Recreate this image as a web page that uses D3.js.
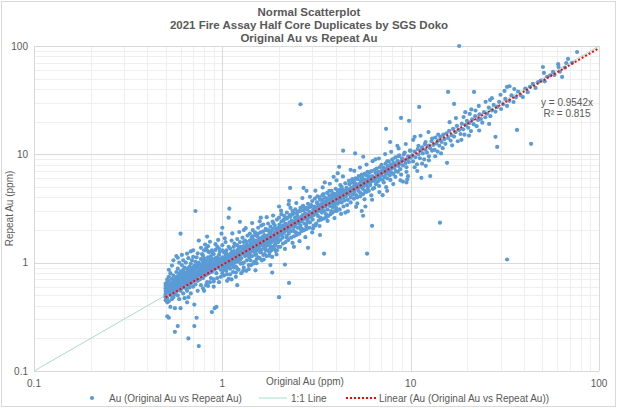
<!DOCTYPE html>
<html>
<head>
<meta charset="utf-8">
<script src="https://cdn.jsdelivr.net/npm/d3@7"></script>
<style>
  body { margin: 0; background: #fff; }
  svg { display: block; font-family: "Liberation Sans", Arial, sans-serif; }
</style>
</head>
<body>
<div id="graph"></div>
<script>
const titleLines = ['Normal Scatterplot', '2021 Fire Assay Half Core Duplicates by SGS Doko', 'Original Au vs Repeat Au'];
const tickValues = [0.1, 1, 10, 100];
const tickLabels = ['0.1', '1', '10', '100'];
const xTitle = 'Original Au (ppm)';
const yTitle = 'Repeat Au (ppm)';
const legendLabels = ['Au (Original Au vs Repeat Au)', '1:1 Line', 'Linear (Au (Original Au vs Repeat Au))'];
const trendSlope = 0.9542;
const trendR2 = 0.815;
const trendRange = [0.5, 100];
const oneToOneRange = [0.1, 100];

// [original Au, repeat Au] in ppm
const auPoints = [
  // 0.50 - 0.60
  [0.5,0.45],[0.5,0.48],[0.5,0.52],[0.5,0.55],[0.5,0.58],[0.5,0.61],[0.5,0.64],[0.5,0.5],[0.51,0.43],[0.51,0.56],
  [0.51,0.6],[0.51,0.66],[0.51,0.7],[0.51,0.47],[0.51,0.32],[0.52,0.31],[0.52,0.53],[0.52,0.57],[0.52,0.62],[0.52,0.68],
  [0.52,0.74],[0.52,0.86],[0.52,0.44],[0.53,0.5],[0.53,0.55],[0.53,0.59],[0.53,0.63],[0.53,0.8],[0.53,0.39],[0.53,0.56],
  [0.54,0.52],[0.54,0.6],[0.54,0.65],[0.54,0.71],[0.54,0.58],[0.54,0.46],[0.54,0.94],[0.55,0.53],[0.55,0.57],[0.55,0.62],
  [0.55,0.67],[0.55,0.76],[0.55,0.48],[0.55,1.05],[0.56,0.55],[0.56,0.6],[0.56,0.64],[0.56,0.7],[0.56,0.51],[0.56,0.23],
  [0.56,0.38],[0.57,0.58],[0.57,0.62],[0.57,0.66],[0.57,0.73],[0.57,0.82],[0.57,0.54],[0.57,1.15],[0.58,0.56],[0.58,0.61],
  [0.58,0.68],[0.58,0.75],[0.58,0.88],[0.58,0.26],[0.58,0.5],[0.58,1.11],[0.59,0.6],[0.59,0.65],[0.59,0.72],[0.59,0.79],
  [0.59,0.46],[0.59,1.0],[0.6,1.85],[0.6,0.38],[0.6,0.62],[0.6,0.68],[0.6,0.74],[0.6,0.83],[0.6,0.55],[0.61,1.18],
  // 0.60 - 0.75
  [0.61,0.58],[0.61,0.66],[0.61,0.72],[0.61,0.8],[0.61,0.95],[0.62,0.6],[0.62,0.7],[0.62,0.77],[0.62,0.52],[0.62,0.86],
  [0.63,0.63],[0.63,0.69],[0.63,0.75],[0.63,0.81],[0.63,0.9],[0.63,0.47],[0.64,0.64],[0.64,0.72],[0.64,0.78],[0.64,0.58],
  [0.64,1.0],[0.65,0.66],[0.65,0.74],[0.65,0.82],[0.65,0.88],[0.65,0.55],[0.65,0.43],[0.66,0.2],[0.66,0.7],[0.66,0.76],
  [0.66,0.85],[0.66,0.62],[0.66,1.1],[0.67,0.68],[0.67,0.73],[0.67,0.8],[0.67,0.92],[0.67,0.59],[0.68,0.7],[0.68,0.78],
  [0.68,0.84],[0.68,0.64],[0.68,0.98],[0.68,0.52],[0.69,0.72],[0.69,0.8],[0.69,0.88],[0.69,1.05],[0.69,0.66],[0.7,0.74],
  [0.7,0.82],[0.7,0.9],[0.7,0.6],[0.7,1.3],[0.71,0.26],[0.71,0.76],[0.71,0.85],[0.71,0.69],[0.71,0.94],[0.71,0.41],
  [0.72,3.0],[0.72,0.78],[0.72,0.88],[0.72,0.72],[0.72,1.02],[0.72,0.63],[0.73,0.31],[0.73,0.8],[0.73,0.9],[0.73,0.74],
  [0.73,1.12],[0.74,0.82],[0.74,0.93],[0.74,0.68],[0.74,0.98],[0.75,0.17],[0.75,0.84],[0.75,0.76],[0.75,1.0],[0.75,1.6],
  [0.62,1.05],[0.65,1.21],[0.68,1.27],[0.7,1.13],[0.74,1.22],[0.66,0.48],[0.74,0.55],
  // 0.75 - 1.0
  [0.76,0.8],[0.76,0.88],[0.76,0.95],[0.76,0.7],[0.77,0.82],[0.77,0.9],[0.77,1.08],[0.77,0.62],[0.78,0.85],[0.78,0.78],
  [0.78,0.96],[0.78,1.2],[0.79,0.83],[0.79,0.92],[0.79,0.72],[0.79,1.02],[0.8,0.86],[0.8,0.8],[0.8,0.95],[0.8,1.1],
  [0.8,0.55],[0.81,0.88],[0.81,0.76],[0.81,1.0],[0.81,1.47],[0.82,0.9],[0.82,0.84],[0.82,1.05],[0.82,1.35],[0.83,0.92],
  [0.83,0.78],[0.83,0.98],[0.83,0.66],[0.83,1.74],[0.84,0.86],[0.84,0.95],[0.84,1.12],[0.85,0.9],[0.85,1.0],[0.85,0.8],
  [0.85,1.25],[0.86,0.93],[0.86,0.85],[0.86,1.06],[0.87,0.96],[0.87,0.88],[0.87,1.15],[0.87,0.72],[0.88,0.35],[0.88,0.92],
  [0.88,1.0],[0.88,0.82],[0.89,0.95],[0.89,1.08],[0.89,0.9],[0.9,0.98],[0.9,0.86],[0.9,1.2],[0.9,0.6],[0.91,0.38],
  [0.91,1.0],[0.91,0.93],[0.92,1.02],[0.92,0.88],[0.92,1.1],[0.93,0.96],[0.93,1.05],[0.93,0.8],[0.93,0.39],[0.94,0.98],
  [0.94,1.12],[0.94,1.4],[0.95,1.0],[0.95,0.9],[0.96,1.04],[0.96,0.94],[0.96,1.18],[0.97,0.97],[0.97,1.08],[0.98,1.0],
  [0.98,0.86],[0.99,1.06],[0.99,0.95],[0.99,1.85],[1.0,2.1],
  [0.8,1.3],[0.82,0.62],[0.84,1.42],[0.86,0.66],[0.88,1.3],[0.9,0.7],[0.92,1.48],[0.94,0.72],[0.96,1.35],[0.98,0.74],
  [0.77,1.37],[0.79,1.16],[0.83,1.29],[0.86,1.56],[0.89,1.23],[0.92,1.31],[0.95,1.62],[0.97,1.26],[0.79,0.58],[0.84,0.61],
  [0.9,0.67],[0.96,0.66],
  // 1.0 - 1.4
  [1.0,1.02],[1.0,0.92],[1.0,1.12],[1.01,0.98],[1.01,1.08],[1.01,0.85],[1.02,1.05],[1.02,0.95],[1.02,1.25],[1.03,1.0],
  [1.03,1.1],[1.03,0.88],[1.04,1.04],[1.04,0.96],[1.04,1.18],[1.05,1.06],[1.05,0.9],[1.05,1.3],[1.06,1.0],[1.06,1.12],
  [1.06,0.78],[1.07,1.08],[1.07,0.98],[1.08,2.6],[1.08,1.04],[1.08,1.15],[1.08,0.92],[1.09,3.15],[1.09,1.1],[1.09,1.0],
  [1.1,1.06],[1.1,1.2],[1.1,0.88],[1.11,1.12],[1.11,0.98],[1.12,1.08],[1.12,1.25],[1.12,0.7],[1.13,1.14],[1.13,1.02],
  [1.14,1.1],[1.14,0.94],[1.15,1.18],[1.15,1.06],[1.15,1.4],[1.16,1.12],[1.16,1.0],[1.17,1.2],[1.17,1.08],[1.18,1.15],
  [1.18,0.92],[1.19,1.22],[1.19,1.1],[1.2,1.16],[1.2,1.3],[1.2,1.02],[1.21,1.2],[1.22,1.12],[1.22,1.35],[1.23,1.18],
  [1.24,2.38],[1.24,1.24],[1.24,1.06],[1.25,1.2],[1.26,1.28],[1.26,1.1],[1.27,1.22],[1.28,1.32],[1.28,0.98],[1.29,1.25],
  [1.3,1.2],[1.3,1.42],[1.31,1.3],[1.32,1.15],[1.33,1.35],[1.34,1.24],[1.35,1.3],[1.35,1.55],[1.36,1.18],[1.37,1.34],
  [1.38,1.28],[1.39,1.4],[1.39,1.12],
  [1.0,1.45],[1.02,0.76],[1.04,1.55],[1.06,0.68],[1.08,1.4],[1.1,0.78],[1.12,1.6],[1.14,0.82],[1.16,1.5],[1.18,0.74],
  [1.2,1.65],[1.22,0.86],[1.24,1.55],[1.26,0.8],[1.28,1.7],[1.3,0.9],[1.32,1.6],[1.34,0.84],[1.36,1.78],[1.38,0.95],
  [1.0,1.3],[1.05,1.22],[1.1,1.35],[1.15,1.28],[1.2,1.45],[1.25,1.4],[1.3,1.55],[1.35,1.45],[1.0,0.8],[1.05,0.84],
  [1.1,0.95],[1.15,0.9],[1.2,0.88],[1.25,0.98],[1.3,1.0],[1.35,1.05],[1.2,0.62],[1.3,2.0],
  [1.03,1.68],[1.13,1.86],[1.23,1.92],[1.33,2.08],[1.08,0.71],[1.18,0.81],[1.29,0.84],[1.38,0.87],
  // 1.4 - 2.0
  [1.4,1.45],[1.4,1.2],[1.4,1.6],[1.41,1.05],[1.42,1.35],[1.42,1.52],[1.43,1.28],[1.43,1.7],[1.44,1.4],[1.44,1.15],
  [1.45,1.5],[1.45,1.32],[1.46,0.98],[1.46,1.62],[1.47,1.42],[1.48,1.25],[1.48,1.55],[1.49,1.9],[1.5,1.48],[1.5,1.36],
  [1.51,1.2],[1.51,1.6],[1.52,1.45],[1.53,1.3],[1.53,1.75],[1.54,1.52],[1.55,1.4],[1.55,1.12],[1.56,1.58],[1.57,1.35],
  [1.57,1.68],[1.58,1.5],[1.59,1.25],[1.6,1.62],[1.6,1.45],[1.61,2.2],[1.62,1.55],[1.62,1.32],[1.63,1.72],[1.64,1.48],
  [1.65,1.6],[1.65,1.18],[1.66,1.4],[1.67,1.8],[1.68,1.55],[1.68,1.65],[1.69,1.38],[1.7,1.7],[1.7,1.5],[1.71,2.0],
  [1.72,1.62],[1.73,1.45],[1.74,1.78],[1.75,1.6],[1.75,1.3],[1.76,1.7],[1.77,1.52],[1.78,1.88],[1.79,1.65],[1.8,1.58],
  [1.8,1.42],[1.81,1.95],[1.82,1.72],[1.83,1.55],[1.84,0.81],[1.84,1.82],[1.84,1.13],[1.85,1.66],[1.86,1.4],[1.87,2.3],
  [1.88,1.78],[1.89,1.6],[1.9,1.9],[1.91,1.7],[1.92,1.5],[1.93,2.05],[1.94,1.82],[1.95,1.65],[1.95,1.3],[1.96,1.95],
  [1.97,1.75],[1.98,1.55],[1.99,2.1],
  [1.4,1.85],[1.42,0.95],[1.45,2.0],[1.48,1.02],[1.5,1.8],[1.52,1.08],[1.55,2.1],[1.58,1.1],[1.6,1.9],[1.62,1.05],
  [1.65,2.25],[1.68,1.2],[1.7,2.05],[1.72,1.15],[1.75,2.3],[1.78,1.25],[1.8,2.15],[1.82,1.3],[1.85,2.4],[1.88,1.35],
  [1.9,2.2],[1.92,1.28],[1.95,2.5],[1.98,1.4],[1.45,1.75],[1.55,1.85],[1.65,1.95],[1.75,2.0],[1.85,2.05],[1.5,1.18],
  [1.6,1.25],[1.7,1.3],[1.8,1.35],[1.9,1.45],[1.5,0.85],[1.6,2.6],[1.8,0.95],
  [1.44,2.32],[1.58,2.41],[1.72,2.63],[1.86,2.72],[1.52,0.99],[1.66,1.07],[1.78,1.16],[1.94,1.19],
  // 2.0 - 3.0
  [2.0,0.48],[2.0,2.0],[2.0,1.78],[2.01,2.25],[2.02,1.9],[2.03,1.62],[2.04,2.1],[2.05,1.95],[2.06,2.4],[2.07,1.8],
  [2.08,2.05],[2.09,1.7],[2.1,2.2],[2.1,2.0],[2.12,1.88],[2.13,2.5],[2.14,2.12],[2.15,0.96],[2.15,1.95],[2.16,2.3],
  [2.18,2.05],[2.19,1.76],[2.2,2.22],[2.21,2.6],[2.22,2.0],[2.24,2.15],[2.25,1.85],[2.26,0.65],[2.26,3.73],[2.27,2.35],
  [2.28,2.1],[2.29,4.9],[2.3,3.2],[2.3,2.25],[2.31,1.95],[2.33,2.45],[2.34,2.18],[2.35,2.8],[2.37,2.3],[2.38,2.0],
  [2.4,2.4],[2.41,2.15],[2.43,2.6],[2.44,2.25],[2.46,1.9],[2.47,2.5],[2.49,2.32],[2.5,2.7],[2.51,2.1],[2.53,2.45],
  [2.55,2.3],[2.56,3.0],[2.58,2.55],[2.6,2.2],[2.6,29],[2.62,2.65],[2.63,2.4],[2.65,2.05],[2.67,2.75],[2.68,2.5],
  [2.7,3.3],[2.7,4.9],[2.72,2.6],[2.73,2.3],[2.75,2.85],[2.77,2.55],[2.79,2.15],[2.8,2.7],[2.82,3.1],[2.84,2.45],
  [2.85,1.37],[2.86,2.8],[2.88,2.6],[2.9,2.95],[2.92,2.35],[2.94,2.75],[2.96,3.4],[2.98,2.65],
  [2.0,2.6],[2.03,1.4],[2.06,2.8],[2.1,1.5],[2.13,2.7],[2.17,1.55],[2.2,2.9],[2.24,1.62],[2.28,2.75],[2.32,1.7],
  [2.36,3.0],[2.4,1.75],[2.44,3.1],[2.48,1.8],[2.52,2.95],[2.56,1.85],[2.6,3.2],[2.64,1.95],[2.68,3.35],[2.72,2.0],
  [2.76,3.15],[2.8,2.05],[2.85,3.5],[2.9,2.1],[2.95,3.3],[2.1,2.45],[2.2,2.55],[2.3,2.65],[2.4,2.85],[2.5,2.9],
  [2.6,3.0],[2.7,3.05],[2.8,3.2],[2.9,3.25],[2.2,1.7],[2.4,1.95],[2.6,2.05],[2.8,2.3],[2.0,3.3],[2.4,1.4],[2.8,4.6],
  [2.05,3.02],[2.25,3.45],[2.47,3.55],[2.66,3.95],[2.92,4.05],[2.15,1.34],[2.36,1.52],[2.57,1.58],[2.76,1.72],
  // 3.0 - 4.5
  [3.0,2.9],[3.02,2.5],[3.04,3.1],[3.06,2.75],[3.08,3.3],[3.1,2.95],[3.12,2.2],[3.14,3.2],[3.16,2.85],[3.18,3.6],
  [3.2,3.05],[3.22,2.7],[3.24,3.35],[3.26,3.0],[3.28,4.0],[3.3,3.2],[3.32,2.6],[3.34,3.45],[3.36,3.1],[3.38,2.9],
  [3.4,3.55],[3.42,3.25],[3.44,4.3],[3.46,3.4],[3.47,1.21],[3.48,3.0],[3.5,3.6],[3.52,3.3],[3.55,2.8],[3.57,3.75],
  [3.6,3.45],[3.62,3.1],[3.65,3.85],[3.67,3.5],[3.7,4.6],[3.72,3.35],[3.75,3.7],[3.78,3.0],[3.8,3.9],[3.82,3.55],
  [3.85,3.25],[3.87,4.1],[3.9,3.7],[3.92,3.4],[3.95,4.0],[3.98,3.6],[4.0,4.3],[4.02,3.2],[4.05,3.85],[4.08,4.15],
  [4.1,3.5],[4.1,6.7],[4.13,4.5],[4.15,3.95],[4.17,7.67],[4.18,3.65],[4.2,4.25],[4.23,5.2],[4.26,3.9],[4.28,4.4],
  [4.3,3.6],[4.33,4.1],[4.36,4.7],[4.38,10.8],[4.4,4.0],[4.42,4.5],[4.45,3.75],[4.48,4.3],
  [3.0,3.7],[3.05,2.2],[3.1,3.9],[3.15,2.3],[3.2,4.1],[3.25,2.45],[3.3,3.8],[3.35,2.5],[3.4,4.2],[3.45,2.55],
  [3.5,4.0],[3.55,2.6],[3.6,4.4],[3.65,2.7],[3.7,4.15],[3.75,2.8],[3.8,4.6],[3.85,2.9],[3.9,4.35],[3.95,3.0],
  [4.0,4.8],[4.05,3.0],[4.1,4.6],[4.2,3.1],[4.3,5.0],[4.4,3.3],[3.2,3.5],[3.4,3.8],[3.6,3.9],[3.8,4.2],
  [4.0,3.5],[4.2,4.7],[3.0,1.9],[3.3,1.8],[3.5,5.5],[3.9,6.2],
  [3.12,4.62],[3.41,4.95],[3.72,5.35],[4.04,5.75],[4.37,6.25],[3.03,2.07],[3.28,2.18],[3.62,2.43],[3.94,2.58],[4.27,2.82],
  // 4.5 - 7
  [4.5,4.6],[4.53,4.1],[4.56,4.9],[4.6,4.4],[4.63,3.8],[4.66,4.75],[4.7,4.3],[4.73,5.3],[4.76,4.55],[4.8,4.0],
  [4.83,4.9],[4.86,4.6],[4.9,5.5],[4.93,4.25],[4.96,4.8],[5.0,5.1],[5.03,4.5],[5.07,10.2],[5.07,5.4],[5.1,4.85],
  [5.13,3.28],[5.14,4.2],[5.17,5.25],[5.2,4.95],[5.24,5.9],[5.28,4.6],[5.32,5.3],[5.36,5.0],[5.4,4.4],[5.44,5.6],
  [5.48,5.15],[5.52,6.2],[5.56,4.8],[5.59,2.71],[5.6,5.5],[5.6,9.5],[5.64,5.1],[5.68,5.85],[5.72,4.6],[5.75,3.3],
  [5.76,5.4],[5.8,6.4],[5.84,5.2],[5.87,1.21],[5.88,5.7],[5.92,4.9],[5.96,6.0],[6.0,5.5],[6.05,6.8],[6.1,5.2],
  [6.15,5.9],[6.2,5.6],[6.24,2.19],[6.24,3.81],[6.25,6.3],[6.3,4.8],[6.35,6.05],[6.4,5.7],[6.45,7.2],[6.5,6.0],
  [6.55,5.3],[6.6,6.5],[6.65,6.1],[6.7,5.6],[6.75,6.9],[6.8,6.3],[6.85,7.6],[6.9,5.9],[6.95,6.6],
  [4.5,5.4],[4.6,3.4],[4.7,5.7],[4.8,3.6],[4.9,5.9],[5.0,3.9],[5.1,6.0],[5.2,4.0],[5.3,6.3],[5.4,4.1],
  [5.5,6.5],[5.6,4.3],[5.7,6.6],[5.8,4.5],[5.9,6.9],[6.0,4.6],[6.2,7.0],[6.4,4.9],[6.6,7.4],[6.8,5.1],
  [5.0,5.7],[5.5,5.9],[6.0,6.3],[6.5,6.8],[4.5,2.9],[4.8,7.2],[5.5,3.0],[6.5,9.0],
  [4.64,2.98],[5.02,7.05],[5.38,7.55],[5.83,8.05],[6.28,8.65],[6.78,9.15],[5.21,3.52],[5.69,3.84],[6.18,4.18],[6.82,4.48],
  // 7 - 10
  [7.0,6.4],[7.05,7.1],[7.1,5.8],[7.1,4.2],[7.15,6.8],[7.2,7.5],[7.25,6.2],[7.3,7.0],[7.35,8.2],[7.4,17.2],
  [7.4,6.6],[7.45,7.3],[7.5,6.0],[7.55,7.8],[7.6,6.9],[7.65,8.6],[7.7,7.1],[7.75,6.4],[7.78,13.0],[7.8,7.6],
  [7.85,8.1],[7.9,6.8],[7.95,7.4],[8.0,9.0],[8.05,7.7],[8.1,6.6],[8.15,8.3],[8.2,7.5],[8.3,9.4],[8.35,7.0],
  [8.4,8.0],[8.5,8.7],[8.55,6.9],[8.6,7.8],[8.7,9.8],[8.75,8.2],[8.8,7.3],[8.89,21.7],[8.9,8.6],[9.0,9.2],
  [9.1,5.6],[9.1,7.9],[9.2,8.8],[9.3,10.4],[9.4,8.3],[9.5,7.6],[9.6,5.9],[9.6,9.0],[9.7,9.6],[9.8,8.5],
  [9.8,20.4],[9.9,10.8],[10.0,9.3],
  [7.0,8.0],[7.2,5.5],[7.5,8.6],[7.8,5.8],[8.0,8.9],[8.3,6.2],[8.6,9.6],[8.9,6.5],[9.2,10.0],[9.5,6.9],
  [7.5,4.6],[8.5,12.0],[9.5,5.5],
  [7.32,10.05],[7.88,10.55],[8.63,11.35],[9.42,12.45],[7.41,4.98],[8.08,5.32],[8.83,5.76],[9.68,6.28],
  // 10 - 15
  [10.2,9.8],[10.3,8.6],[10.5,10.6],[10.6,9.4],[10.8,8.1],[10.9,11.2],[11.0,10.0],[11.1,27.4],[11.2,9.2],[11.3,10.8],
  [11.4,6.07],[11.5,11.6],[11.6,10.2],[11.8,9.0],[11.9,12.4],[12.0,11.0],[12.2,10.4],[12.4,12.0],[12.5,9.6],[12.7,6.3],
  [12.7,11.4],[12.9,13.2],[13.0,10.8],[13.2,12.2],[13.4,11.0],[13.5,14.3],[13.7,12.6],[13.9,10.6],[14.0,13.4],[14.2,12.0],
  [14.3,2.34],[14.4,14.5],[14.6,13.0],[14.8,11.4],[14.9,15.2],
  [10.0,10.8],[10.5,7.6],[11.0,12.0],[11.5,8.2],[12.0,13.0],[12.5,8.8],[13.0,14.0],[13.5,9.6],[14.0,15.2],[14.5,10.2],
  [10.5,14.5],[10.32,13.62],[11.28,14.85],[12.43,16.05],[10.84,7.02],[12.03,7.84],
  // 15 - 25
  [15.1,13.8],[15.3,12.5],[15.5,15.6],[15.6,8.35],[15.8,37.7],[15.8,14.2],[16.0,16.5],[16.3,13.4],[16.5,15.0],[16.8,17.2],
  [17.0,29.2],[17.0,14.6],[17.3,16.0],[17.6,18.3],[17.8,13.2],[18.1,100],[18.1,16.8],[18.4,15.4],[18.7,19.2],[19.0,17.0],
  [19.3,15.2],[19.5,24.5],[19.6,18.6],[19.9,20.4],[20.2,17.6],[20.5,19.5],[20.9,16.4],[21.0,26.0],[21.2,21.0],[21.6,19.0],
  [21.7,37.7],[22.0,22.5],[22.4,18.2],[22.8,20.8],[23.0,28.0],[23.2,23.4],[23.6,21.2],[24.0,19.6],[24.5,24.5],[24.9,22.0],
  [16.1,19.8],[17.4,21.6],[19.1,22.1],[20.6,23.6],[22.1,25.4],[16.6,12.1],[18.6,13.6],[20.4,14.9],[23.1,16.6],
  // 25 - 40
  [25.0,30.5],[25.5,23.8],[26.0,27.0],[26.4,31.8],[26.5,22.5],[27.0,25.5],[27.0,33.0],[27.6,28.6],[28.2,14.5],[28.2,24.8],
  [28.8,11.7],[28.8,27.4],[29.5,30.5],[30.0,35.5],[30.2,26.2],[31.0,29.0],[31.5,38.5],[31.8,32.5],[32.5,1.07],[32.5,28.0],
  [32.5,41.9],[33.4,31.2],[33.5,42.5],[34.3,35.0],[35.2,30.4],[35.5,40.0],[36.2,33.6],[36.7,16.8],[37.2,38.0],[38.3,35.2],
  [39.4,33.8],[26.1,19.1],
  // 40 - 80
  [40.6,40.5],[41.8,37.5],[43.0,42.0],[43.6,12.5],[44.5,44.8],[46.0,41.0],[47.5,46.5],[49.0,48.0],[50.4,64],[51.0,56.4],
  [51.5,47.2],[53.0,52.0],[55.0,53.5],[57.0,57.6],[58.0,54.0],[60.7,68],[61.0,64],[62.0,58.0],[63.7,51.8],[66.0,63.0],
  [67.0,69.7],[68.5,75.9],[72.0,70.0],[76.5,88]
];

var width = 618;
var height = 409;
var plot = {left: 34, right: 599, top: 46, bottom: 371};

var x = d3.scaleLog().domain([0.1, 100]).range([plot.left, plot.right]);
var y = d3.scaleLog().domain([0.1, 100]).range([plot.bottom, plot.top]);

var svg = d3.select('#graph')
            .append('svg')
            .attr('width', width)
            .attr('height', height);

svg.append('rect')
   .attr('width', width)
   .attr('height', height)
   .attr('fill', '#fff');

svg.append('rect')
   .attr('x', 1.5).attr('y', 1.5)
   .attr('width', width - 4).attr('height', height - 4)
   .attr('fill', 'none')
   .attr('stroke', '#d9d9d9');

// gridlines: minor first, then decades
var minorTicks = x.ticks().filter(d => tickValues.indexOf(d) < 0);

var grid = svg.append('g');
grid.selectAll('.vminor').data(minorTicks).enter().append('line')
    .attr('x1', d => Math.round(x(d)) + 0.5).attr('x2', d => Math.round(x(d)) + 0.5)
    .attr('y1', plot.top).attr('y2', plot.bottom)
    .attr('stroke', '#efefef');
grid.selectAll('.hminor').data(minorTicks).enter().append('line')
    .attr('y1', d => Math.round(y(d)) + 0.5).attr('y2', d => Math.round(y(d)) + 0.5)
    .attr('x1', plot.left).attr('x2', plot.right)
    .attr('stroke', '#efefef');
grid.selectAll('.vmajor').data(tickValues).enter().append('line')
    .attr('x1', d => Math.round(x(d)) + 0.5).attr('x2', d => Math.round(x(d)) + 0.5)
    .attr('y1', plot.top).attr('y2', plot.bottom)
    .attr('stroke', '#d9d9d9');
grid.selectAll('.hmajor').data(tickValues).enter().append('line')
    .attr('y1', d => Math.round(y(d)) + 0.5).attr('y2', d => Math.round(y(d)) + 0.5)
    .attr('x1', plot.left).attr('x2', plot.right)
    .attr('stroke', '#d9d9d9');

// tick labels
svg.selectAll('.ylab').data(tickValues).enter().append('text')
   .attr('x', 28).attr('y', d => y(d) + 3.5)
   .attr('text-anchor', 'end')
   .attr('font-size', 10).attr('fill', '#595959')
   .text((d, i) => tickLabels[i]);
svg.selectAll('.xlab').data(tickValues).enter().append('text')
   .attr('x', d => x(d)).attr('y', plot.bottom + 16)
   .attr('text-anchor', 'middle')
   .attr('font-size', 10).attr('fill', '#595959')
   .text((d, i) => tickLabels[i]);

// 1:1 line
var line = d3.line().x(d => x(d)).y(d => y(d));
svg.append('path')
   .attr('d', line(oneToOneRange))
   .attr('fill', 'none')
   .attr('stroke', '#a9dcc9')
   .attr('stroke-width', 1);

// points
svg.append('g').selectAll('circle')
   .data(auPoints).enter().append('circle')
   .attr('cx', d => x(d[0]))
   .attr('cy', d => y(d[1]))
   .attr('r', 2.1)
   .attr('fill', '#5b9bd5');

// linear trend through origin
var trendLine = d3.line().x(d => x(d)).y(d => y(d * trendSlope));
svg.append('path')
   .attr('d', trendLine(trendRange))
   .attr('fill', 'none')
   .attr('stroke', '#ff0000')
   .attr('stroke-width', 2)
   .attr('stroke-dasharray', '2,2');

svg.append('text')
   .attr('x', 567).attr('y', 106)
   .attr('text-anchor', 'middle')
   .attr('font-size', 10).attr('fill', '#595959')
   .text('y = ' + trendSlope + 'x');
svg.append('text')
   .attr('x', 567).attr('y', 117)
   .attr('text-anchor', 'middle')
   .attr('font-size', 10).attr('fill', '#595959')
   .text('R\u00b2 = ' + trendR2);

// titles
svg.selectAll('.title').data(titleLines).enter().append('text')
   .attr('x', 309).attr('y', (d, i) => 16 + i * 13)
   .attr('text-anchor', 'middle')
   .attr('font-size', 11.5).attr('font-weight', 'bold').attr('fill', '#595959')
   .text(d => d);

svg.append('text')
   .attr('x', 305).attr('y', 385)
   .attr('text-anchor', 'middle')
   .attr('font-size', 10).attr('fill', '#595959')
   .text(xTitle);
svg.append('text')
   .attr('transform', 'translate(13,' + ((plot.top + plot.bottom) / 2) + ') rotate(-90)')
   .attr('text-anchor', 'middle')
   .attr('font-size', 10).attr('fill', '#595959')
   .text(yTitle);

// legend
var ly = 398;
var legend = svg.append('g').attr('font-size', 10).attr('fill', '#595959');
legend.append('circle').attr('cx', 92).attr('cy', ly).attr('r', 2.1).attr('fill', '#5b9bd5');
legend.append('text').attr('x', 109).attr('y', ly + 3.5).text(legendLabels[0]);
legend.append('line').attr('x1', 259).attr('x2', 287).attr('y1', ly).attr('y2', ly)
      .attr('stroke', '#a9dcc9').attr('stroke-width', 1);
legend.append('text').attr('x', 291).attr('y', ly + 3.5).text(legendLabels[1]);
legend.append('line').attr('x1', 346).attr('x2', 376).attr('y1', ly).attr('y2', ly)
      .attr('stroke', '#ff0000').attr('stroke-width', 2).attr('stroke-dasharray', '2,2');
legend.append('text').attr('x', 379).attr('y', ly + 3.5).text(legendLabels[2]);
</script>
</body>
</html>
